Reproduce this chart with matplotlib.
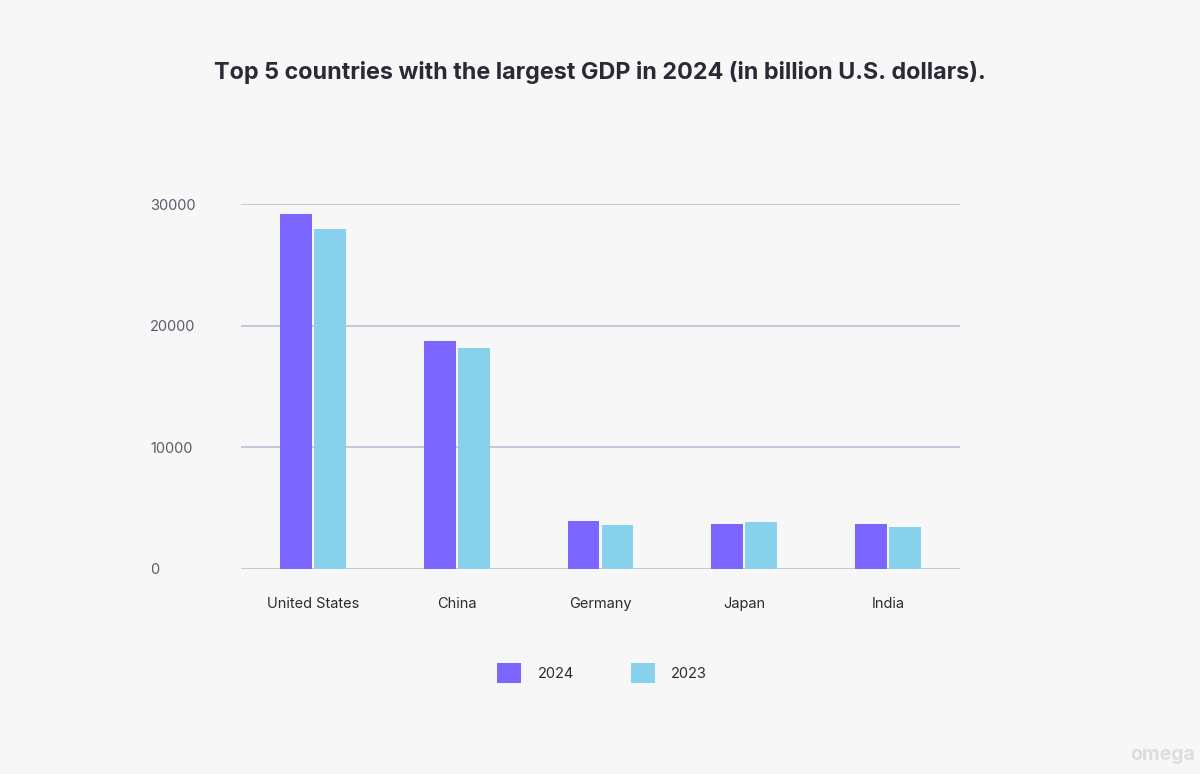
import matplotlib
matplotlib.use("Agg")
import matplotlib.pyplot as plt
import numpy as np

countries = ["United States", "China", "Germany", "Japan", "India"]
gdp_2024 = [29200, 18710, 3960, 3710, 3710]
gdp_2023 = [27970, 18140, 3630, 3880, 3470]
yticks = [0, 10000, 20000, 30000]
series_labels = ["2024", "2023"]
colors = ["#7B66FF", "#87D1ED"]

plt.rcParams['font.family'] = ['Inter', 'DejaVu Sans']
bg = "#F7F7F7"

fig = plt.figure(figsize=(12, 7.74), dpi=100, facecolor=bg)
ax = fig.add_axes([241/1200, 1-569/774, (960-241)/1200, (569-204)/774])
ax.set_facecolor(bg)

x = np.arange(len(countries))
w = 0.222
gap = 0.007
b1 = ax.bar(x - w/2 - gap, gdp_2024, width=w, color=colors[0], label=series_labels[0], zorder=3)
b2 = ax.bar(x + w/2 + gap, gdp_2023, width=w, color=colors[1], label=series_labels[1], zorder=3)

ax.set_xlim(-0.5, len(countries) - 0.5)
ax.set_ylim(0, 30000)
ax.set_yticks(yticks)
ax.set_yticklabels([str(v) for v in yticks], fontsize=10.5, color="#5C5B6B", ha="left")
ax.tick_params(axis='y', length=0, pad=65.4)
ax.set_xticks(x)
ax.set_xticklabels(countries, fontsize=10.5, color="#2B2B33")
ax.tick_params(axis='x', length=0, pad=20.5)
for s in ax.spines.values():
    s.set_visible(False)
ax.grid(axis='y', color="#C5C1D6", linewidth=1.3, zorder=0)

fig.text(0.5, 1-72/774, "Top 5 countries with the largest GDP in 2024 (in billion U.S. dollars).",
         ha="center", va="center", fontsize=16.8, fontweight="bold", color="#2A2A36")

leg = fig.legend(handles=[b1, b2], labels=series_labels, loc="center",
                 bbox_to_anchor=(602/1200, 1-673/774), ncol=2, frameon=False,
                 fontsize=10.5, handlelength=1.65, handleheight=1.65,
                 handletextpad=1.1, columnspacing=3.9, labelcolor="#2B2B33")

fig.text(1195/1200, 1-755/774, "omega", ha="right", va="center", fontsize=14,
         fontweight="bold", color="#DCDCE2")

fig.savefig("out.png", dpi=100, facecolor=bg)
